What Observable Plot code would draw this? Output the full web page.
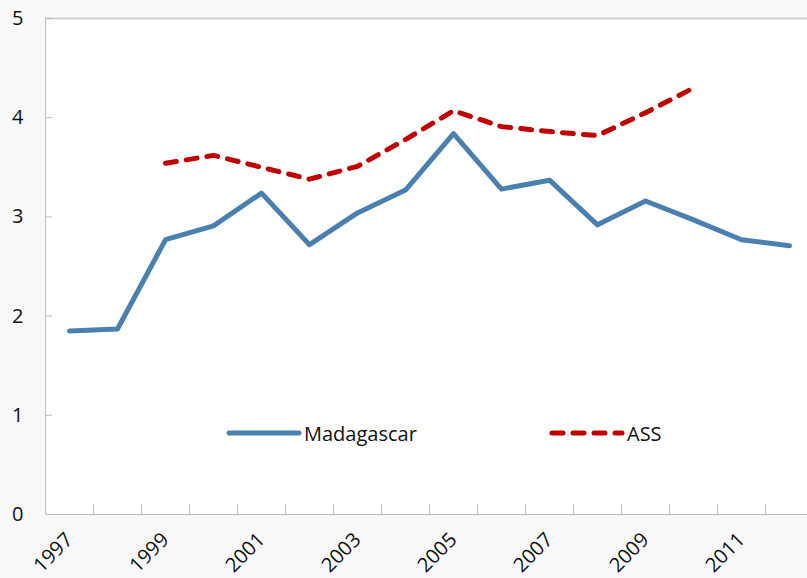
<!DOCTYPE html>
<html><head><meta charset="utf-8">
<script src="https://cdn.jsdelivr.net/npm/d3@7"></script>
<script src="https://cdn.jsdelivr.net/npm/@observablehq/plot@0.6"></script>
<style>
html,body{margin:0;padding:0;background:#f8f8f8;}
#wrap{position:relative;width:807px;height:578px;overflow:hidden;font-family:"Open Sans",sans-serif;}
.leg{position:absolute;display:flex;align-items:center;font-size:20px;color:#111;height:20px;}
.leg svg{display:block;margin-right:2px;}
</style></head><body><div id="wrap"></div>
<script>
const years = [1997,1998,1999,2000,2001,2002,2003,2004,2005,2006,2007,2008,2009,2010,2011,2012];
const madagascar = [1.85,1.87,2.77,2.91,3.24,2.72,3.04,3.27,3.84,3.28,3.37,2.92,3.16,2.97,2.77,2.71];
const ass = [null,null,3.54,3.62,3.50,3.38,3.51,3.78,4.07,3.91,3.86,3.82,4.05,4.30,null,null];
const xLabels = [1997,1999,2001,2003,2005,2007,2009,2011];
const yTicks = [0,1,2,3,4,5];
const seriesNames = ["Madagascar","ASS"];
const colors = ["#4a80b0","#c00000"];

const madData = years.map((yr,i)=>({year:yr, value:madagascar[i]}));
const assData = years.map((yr,i)=>({year:yr, value:ass[i]})).filter(d=>d.value!=null);
const xBounds = years.map(y=>y+0.5);

const chart = Plot.plot({
  width:807, height:578,
  marginLeft:45, marginRight:0, marginTop:18, marginBottom:64,
  style:{background:"transparent", fontFamily:"'Open Sans', sans-serif", fontSize:"20px", color:"#111"},
  x:{domain:[years[0]-0.5, years[years.length-1]+0.5], range:[45,813]},
  y:{domain:[0,5]},
  marks:[
    Plot.frame({fill:"white", stroke:null}),
    Plot.ruleY([5], {stroke:"#d0d0d0", strokeWidth:2}),
    Plot.ruleY([0], {stroke:"#bdbdbd"}),
    Plot.ruleX([years[0]-0.5], {stroke:"#bdbdbd"}),
    Plot.axisY(yTicks, {anchor:"left", tickSize:-7, text:null, label:null, stroke:"#bdbdbd"}),
    Plot.axisY(yTicks, {anchor:"left", tickSize:0, tickPadding:22, label:null, fill:"#111", fontSize:20, tickFormat:d=>String(d)}),
    Plot.axisX(xBounds, {anchor:"bottom", tickSize:-10, text:null, label:null, stroke:"#bdbdbd"}),
    Plot.axisX(xLabels, {anchor:"bottom", tickSize:0, tickPadding:22, tickRotate:-45, fontSize:20, tickFormat:d=>String(d), label:null, fill:"#111"}),
    Plot.line(madData, {x:"year", y:"value", stroke:colors[0], strokeWidth:5, strokeLinejoin:"round", strokeLinecap:"round"}),
    Plot.line(assData, {x:"year", y:"value", stroke:colors[1], strokeWidth:5, strokeDasharray:"11,10", strokeLinejoin:"round", strokeLinecap:"round"})
  ]
});
const wrap = document.getElementById("wrap");
wrap.appendChild(chart);

function legendItem(name, color, dashed, left, top){
  const d = document.createElement("div");
  d.className = "leg";
  d.style.left = left + "px";
  d.style.top = top + "px";
  d.innerHTML = `<svg width="76" height="10"><line x1="3" y1="5" x2="73" y2="5" stroke="${color}" stroke-width="5" stroke-linecap="round" ${dashed ? 'stroke-dasharray="11,10"' : ''}/></svg><span>${name}</span>`;
  wrap.appendChild(d);
}
legendItem(seriesNames[0], colors[0], false, 226, 423);
legendItem(seriesNames[1], colors[1], true, 549, 423);
</script></body></html>
